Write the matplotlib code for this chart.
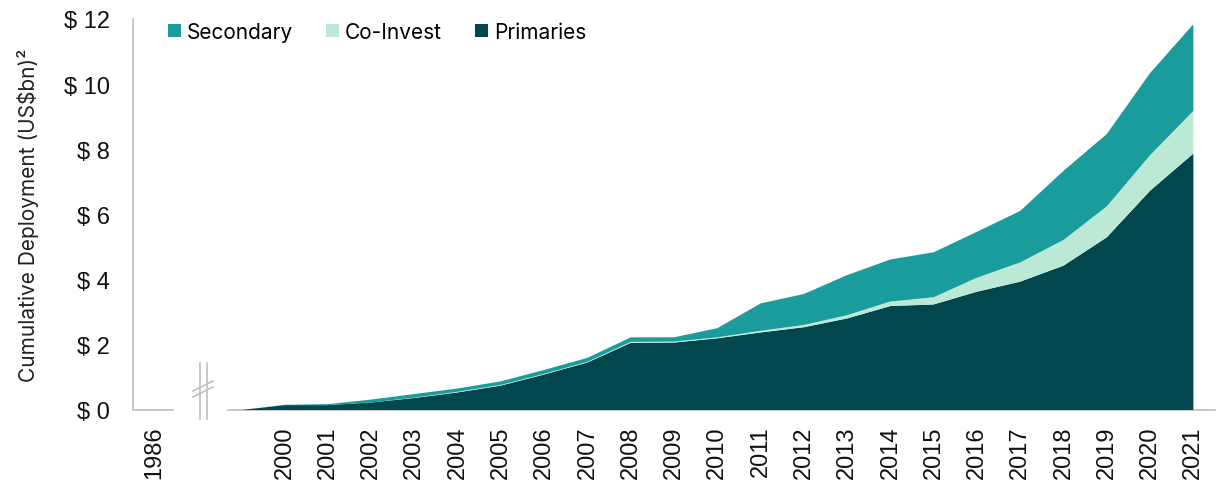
import matplotlib
matplotlib.use("Agg")
import matplotlib.pyplot as plt
from matplotlib.patches import Patch

years = ["1986"] + [str(y) for y in range(2000, 2022)]
# Stacked area series (US$bn), first point is the un-labelled start after the axis break
primaries = [0.00, 0.15, 0.15, 0.23, 0.37, 0.54, 0.75, 1.09, 1.46, 2.06, 2.07, 2.20,
             2.38, 2.54, 2.81, 3.19, 3.24, 3.63, 3.94, 4.43, 5.30, 6.73, 7.87]
co_invest = [0.00, 0.00, 0.00, 0.00, 0.01, 0.02, 0.02, 0.02, 0.02, 0.03, 0.03, 0.03,
             0.05, 0.07, 0.10, 0.14, 0.22, 0.43, 0.59, 0.79, 0.95, 1.09, 1.31]
secondary = [0.00, 0.01, 0.03, 0.09, 0.11, 0.10, 0.11, 0.12, 0.12, 0.14, 0.13, 0.28,
             0.84, 0.95, 1.23, 1.29, 1.38, 1.41, 1.58, 2.12, 2.22, 2.52, 2.66]
series_names = ["Secondary", "Co-Invest", "Primaries"]
colors = {"Secondary": "#1a9c9c", "Co-Invest": "#bce8d6", "Primaries": "#02464e"}
yticks = [0, 2, 4, 6, 8, 10, 12]

fig = plt.figure(figsize=(12.19, 4.85), dpi=100)
ax = fig.add_axes([133 / 1219, 74 / 485, (1215 - 133) / 1219, (411 - 20) / 485])

# positions: 0 = 1986, 1 = break, 2 = start, 3.. = 2000..
xs = list(range(2, 2 + len(primaries)))
ax.stackplot(xs, primaries, co_invest, secondary,
             colors=[colors["Primaries"], colors["Co-Invest"], colors["Secondary"]],
             linewidth=0, zorder=2)

ax.set_xlim(-0.5, 24.5)
ax.set_ylim(0, 12)

tick_font = "Liberation Sans"
ax.set_yticks(yticks)
ax.set_yticklabels([f"$ {v}" for v in yticks], fontsize=17, family=tick_font,
                   color="#111111")
xtick_pos = [0] + list(range(3, 3 + 22))
ax.set_xticks(xtick_pos)
ax.set_xticklabels(years, rotation=90, fontsize=17, family=tick_font, color="#111111")
ax.tick_params(axis="both", length=0)
ax.tick_params(axis="y", pad=16.5)
ax.tick_params(axis="x", pad=11)

for s in ["top", "right", "bottom"]:
    ax.spines[s].set_visible(False)
ax.spines["left"].set_color("#bfbfbf")
ax.spines["left"].set_linewidth(1.2)

gray = "#bfbfbf"
# broken x-axis line
def px(x):
    return -0.5 + (x - 133) / 43.28
def py(y):
    return (411 - y) / 32.58

ax.plot([px(133), px(173)], [0, 0], color=gray, lw=1.2, clip_on=False, zorder=3)
ax.plot([px(228), px(1215)], [0, 0], color=gray, lw=1.2, clip_on=False, zorder=1)
for xv in (200, 207):
    ax.plot([px(xv), px(xv)], [py(364), py(420)], color=gray, lw=1.2, clip_on=False)
for y0 in (392, 398):
    ax.plot([px(193), px(213)], [py(y0), py(y0 - 10)], color=gray, lw=1.2, clip_on=False)

ax.set_ylabel("Cumulative Deployment (US$bn)²", fontsize=15, family="Inter",
              color="#222222")
ax.yaxis.set_label_coords((39 - 133) / 1082, 0.5)

handles = [Patch(facecolor=colors[n], edgecolor="none") for n in series_names]
leg = ax.legend(handles, series_names, ncol=3, frameon=False, loc="upper left",
                bbox_to_anchor=((168 - 133) / 1082, 0.992), borderaxespad=0, borderpad=0,
                handlelength=0.6, handleheight=0.6, handletextpad=0.3, columnspacing=1.6,
                prop={"family": "Inter", "size": 15})

fig.savefig("out.png", dpi=100)
